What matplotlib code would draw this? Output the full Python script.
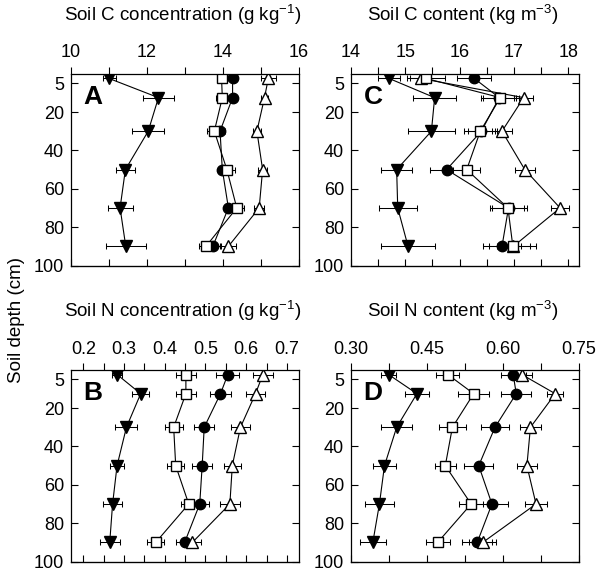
import matplotlib
matplotlib.use('Agg')
import matplotlib.pyplot as plt

plt.rcParams['font.family'] = ['Liberation Sans', 'DejaVu Sans']
plt.rcParams['mathtext.default'] = 'regular'

# Depth mid-points of the sampled layers (cm)
depth = [2.5, 12.5, 30, 50, 70, 90]

# Panel A - soil C concentration (g kg-1)
a_circ = [14.25, 14.25, 13.92, 13.98, 14.14, 13.73]
a_circ_err = [0.12, 0.12, 0.12, 0.12, 0.12, 0.20]
a_sq = [13.96, 13.98, 13.77, 14.10, 14.36, 13.55]
a_sq_err = [0.13, 0.17, 0.20, 0.22, 0.18, 0.18]
a_tu = [15.19, 15.09, 14.89, 15.04, 14.95, 14.14]
a_tu_err = [0.20, 0.10, 0.10, 0.12, 0.13, 0.20]
a_td = [11.00, 12.30, 12.03, 11.43, 11.29, 11.44]
a_td_err = [0.17, 0.40, 0.42, 0.25, 0.33, 0.52]

# Panel B - soil N concentration (g kg-1)
b_circ = [0.555, 0.537, 0.497, 0.492, 0.486, 0.449]
b_circ_err = [0.028, 0.027, 0.024, 0.024, 0.023, 0.022]
b_sq = [0.452, 0.452, 0.422, 0.427, 0.459, 0.378]
b_sq_err = [0.025, 0.025, 0.022, 0.021, 0.020, 0.021]
b_tu = [0.641, 0.623, 0.586, 0.566, 0.560, 0.468]
b_tu_err = [0.025, 0.023, 0.023, 0.021, 0.024, 0.020]
b_td = [0.283, 0.341, 0.306, 0.283, 0.272, 0.265]
b_td_err = [0.012, 0.021, 0.027, 0.018, 0.024, 0.025]

# Panel C - soil C content (kg m-3)
c_circ = [16.27, 16.73, 16.40, 15.76, 16.90, 16.78]
c_circ_err = [0.31, 0.30, 0.25, 0.31, 0.34, 0.35]
c_sq = [15.38, 16.75, 16.38, 16.13, 16.89, 16.98]
c_sq_err = [0.35, 0.35, 0.30, 0.25, 0.30, 0.43]
c_tu = [15.28, 17.18, 16.78, 17.20, 17.85, 16.99]
c_tu_err = [0.20, 0.18, 0.19, 0.18, 0.17, 0.30]
c_td = [14.70, 15.54, 15.48, 14.84, 14.86, 15.05]
c_td_err = [0.21, 0.40, 0.44, 0.28, 0.35, 0.50]

# Panel D - soil N content (kg m-3)
d_circ = [0.620, 0.626, 0.584, 0.552, 0.578, 0.549]
d_circ_err = [0.025, 0.030, 0.027, 0.029, 0.031, 0.030]
d_sq = [0.491, 0.542, 0.500, 0.486, 0.537, 0.471]
d_sq_err = [0.023, 0.031, 0.026, 0.021, 0.024, 0.024]
d_tu = [0.637, 0.703, 0.654, 0.647, 0.665, 0.560]
d_tu_err = [0.021, 0.016, 0.020, 0.020, 0.021, 0.027]
d_td = [0.374, 0.430, 0.390, 0.366, 0.356, 0.343]
d_td_err = [0.015, 0.024, 0.030, 0.023, 0.028, 0.026]

depth_ticks = [5, 20, 40, 60, 80, 100]

# marker, face colour, size (order: circle, triangle up, square, triangle down)
styles = [('o', 'black', 7.5), ('^', 'white', 8), ('s', 'white', 7), ('v', 'black', 8)]


def draw_panel(ax, series, xlim, major, labels, minor, title, letter):
    for (vals, errs), (m, fc, ms) in zip(series, styles):
        ax.errorbar(vals, depth, xerr=errs, fmt='-', marker=m, mfc=fc, mec='black',
                    ms=ms, color='black', lw=0.8, elinewidth=0.75,
                    capsize=2.3, capthick=0.75)
    ax.set_xlim(xlim)
    ax.set_ylim(100, 0)
    ax.xaxis.tick_top()
    ax.set_xticks(major)
    ax.set_xticklabels(labels)
    ax.set_xticks(minor, minor=True)
    ax.tick_params(axis='x', which='both', direction='out', length=4.8, width=0.8,
                   pad=4, labelsize=13, top=True, bottom=False)
    ax.set_yticks(depth_ticks)
    ax.tick_params(axis='y', direction='in', length=4.8, width=0.8, pad=5,
                   labelsize=13, left=True, right=True)
    # inward ticks along the bottom edge
    sec = ax.secondary_xaxis('bottom')
    sec.set_xticks(list(major) + list(minor))
    sec.tick_params(direction='in', length=4.8, width=0.8, labelbottom=False)
    for sp in ax.spines.values():
        sp.set_linewidth(0.9)
    ax.text(0.49, 1.275, title, transform=ax.transAxes, ha='center', va='baseline',
            fontsize=13.5)
    ax.text(0.055, 0.842, letter, transform=ax.transAxes, ha='left', va='baseline',
            fontsize=19, fontweight='bold')


fig = plt.figure(figsize=(5.97, 5.71), dpi=100)
w, h = 0.382, 0.336
axA = fig.add_axes([0.119, 0.535, w, h])
axC = fig.add_axes([0.588, 0.535, w, h])
axB = fig.add_axes([0.119, 0.0165, w, h])
axD = fig.add_axes([0.588, 0.0165, w, h])

draw_panel(axA, [(a_circ, a_circ_err), (a_tu, a_tu_err), (a_sq, a_sq_err), (a_td, a_td_err)],
           (10, 16), [10, 12, 14, 16], ['10', '12', '14', '16'], [11, 13, 15],
           'Soil C concentration (g kg$^{-1}$)', 'A')
draw_panel(axB, [(b_circ, b_circ_err), (b_tu, b_tu_err), (b_sq, b_sq_err), (b_td, b_td_err)],
           (0.17, 0.73), [0.2, 0.3, 0.4, 0.5, 0.6, 0.7],
           ['0.2', '0.3', '0.4', '0.5', '0.6', '0.7'],
           [0.25, 0.35, 0.45, 0.55, 0.65],
           'Soil N concentration (g kg$^{-1}$)', 'B')
draw_panel(axC, [(c_circ, c_circ_err), (c_tu, c_tu_err), (c_sq, c_sq_err), (c_td, c_td_err)],
           (14, 18.2), [14, 15, 16, 17, 18], ['14', '15', '16', '17', '18'],
           [14.5, 15.5, 16.5, 17.5],
           'Soil C content (kg m$^{-3}$)', 'C')
draw_panel(axD, [(d_circ, d_circ_err), (d_tu, d_tu_err), (d_sq, d_sq_err), (d_td, d_td_err)],
           (0.30, 0.75), [0.30, 0.45, 0.60, 0.75], ['0.30', '0.45', '0.60', '0.75'],
           [0.375, 0.525, 0.675],
           'Soil N content (kg m$^{-3}$)', 'D')

fig.text(0.028, 0.44, 'Soil depth (cm)', rotation=90, ha='center', va='center',
         fontsize=13.5)

fig.savefig('out.png', dpi=100)
